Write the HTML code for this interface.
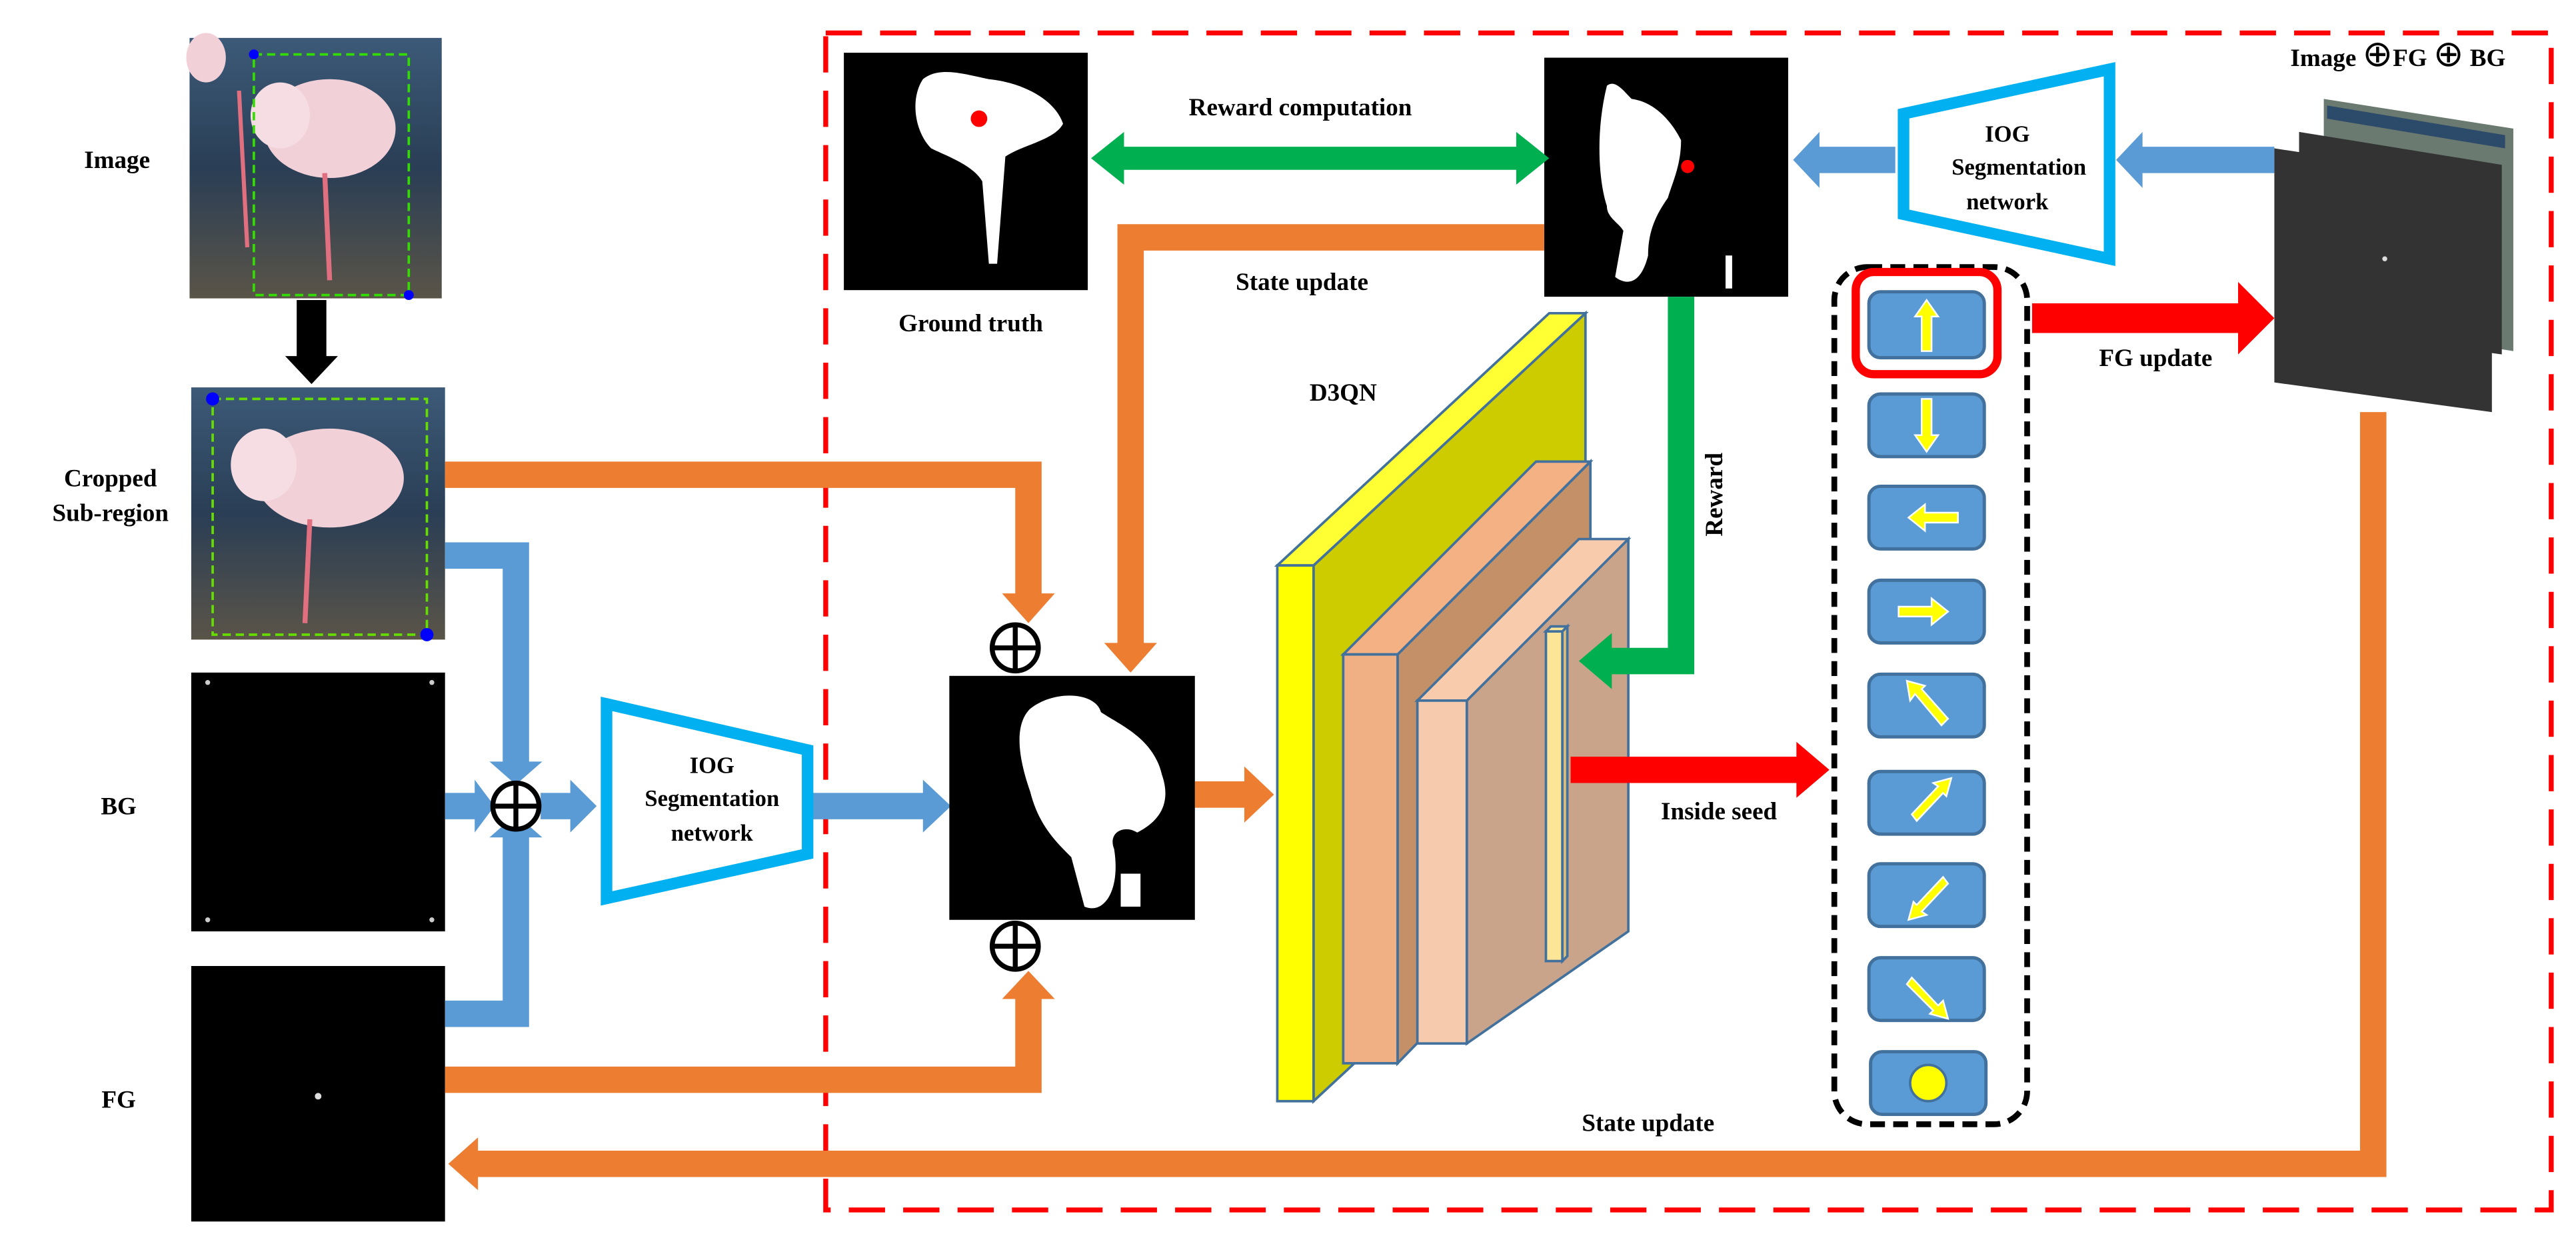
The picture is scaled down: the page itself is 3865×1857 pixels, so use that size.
<!DOCTYPE html>
<html><head><meta charset="utf-8"><style>html,body{margin:0;padding:0;background:#fff}svg{display:block}</style></head>
<body>
<svg width="3865" height="1857" viewBox="0 0 1563 751" xmlns="http://www.w3.org/2000/svg" font-family="'Liberation Serif',serif" font-weight="bold">
<defs>
<linearGradient id="ph" x1="0" y1="0" x2="0" y2="1"><stop offset="0" stop-color="#3c5a78"/><stop offset="0.5" stop-color="#2a3e55"/><stop offset="1" stop-color="#5a5448"/></linearGradient>
</defs>
<rect x="501" y="20" width="1047" height="714" fill="none" stroke="#f00" stroke-width="3" stroke-dasharray="22,11"/>
<g font-size="15" text-anchor="middle" fill="#000">
<text x="71" y="102">Image</text>
<text x="67" y="295">Cropped</text>
<text x="67" y="316">Sub-region</text>
<text x="72" y="494">BG</text>
<text x="72" y="672">FG</text>
</g>
<rect x="115" y="23" width="153" height="158" fill="url(#ph)"/>
<ellipse cx="200" cy="78" rx="40" ry="30" fill="#f2d0d8"/>
<ellipse cx="170" cy="70" rx="18" ry="20" fill="#f5dde3"/>
<ellipse cx="125" cy="35" rx="12" ry="15" fill="#f2d0d8"/>
<line x1="197" y1="105" x2="200" y2="170" stroke="#e07080" stroke-width="3"/>
<line x1="145" y1="55" x2="150" y2="150" stroke="#e07080" stroke-width="2.5"/>
<rect x="154" y="33" width="94" height="146" fill="none" stroke="#33dd00" stroke-width="1.5" stroke-dasharray="5,3"/>
<circle cx="154" cy="33" r="3" fill="#00f"/><circle cx="248" cy="179" r="3" fill="#00f"/>
<rect x="180" y="182" width="18" height="36" fill="#000"/>
<polygon points="173,216 205,216 189,233" fill="#000"/>
<rect x="116" y="235" width="154" height="153" fill="url(#ph)"/>
<ellipse cx="200" cy="290" rx="45" ry="30" fill="#f2d0d8"/>
<ellipse cx="160" cy="282" rx="20" ry="22" fill="#f5dde3"/>
<line x1="188" y1="315" x2="185" y2="378" stroke="#e07080" stroke-width="3"/>
<rect x="129" y="242" width="130" height="143" fill="none" stroke="#66dd00" stroke-width="1.5" stroke-dasharray="5,3"/>
<circle cx="129" cy="242" r="4" fill="#00f"/><circle cx="259" cy="385" r="4" fill="#00f"/>
<rect x="116" y="408" width="154" height="157" fill="#000"/>
<circle cx="126" cy="414" r="1.5" fill="#ccc"/><circle cx="262" cy="414" r="1.5" fill="#ccc"/><circle cx="126" cy="558" r="1.5" fill="#ccc"/><circle cx="262" cy="558" r="1.5" fill="#ccc"/>
<rect x="116" y="586" width="154" height="155" fill="#000"/>
<circle cx="193" cy="665" r="2" fill="#ddd"/>
<g fill="#5b9bd5">
<polygon points="270,329 321,329 321,462 329,462 313,476 297,462 305,462 305,345 270,345"/>
<polygon points="270,481 288,481 288,473 300,489 288,505 288,497 270,497"/>
<polygon points="270,615 305,615 305,516 297,516 313,502 329,516 321,516 321,631 270,631" transform="translate(0,-8)"/>
<polygon points="328,481 346,481 346,473 362,489 346,505 346,497 328,497"/>
<polygon points="493,481 560,481 560,473 577,489 560,505 560,497 493,497"/>
<polygon points="1380,89 1300,89 1300,80 1284,97 1300,114 1300,105 1380,105"/>
<polygon points="1150,89 1104,89 1104,80 1088,97 1104,114 1104,105 1150,105"/>
</g>
<g fill="#fff" stroke="#000" stroke-width="3">
<circle cx="313" cy="489" r="14"/><line x1="299" y1="489" x2="327" y2="489"/><line x1="313" y1="475" x2="313" y2="503"/>
<circle cx="616" cy="393" r="14"/><line x1="602" y1="393" x2="630" y2="393"/><line x1="616" y1="379" x2="616" y2="407"/>
<circle cx="616" cy="574" r="14"/><line x1="602" y1="574" x2="630" y2="574"/><line x1="616" y1="560" x2="616" y2="588"/>
</g>
<polygon points="368,427 490,455 490,518 368,545" fill="#fff" stroke="#00b0f0" stroke-width="7"/>
<g font-size="14" text-anchor="middle" font-weight="bold"><text x="432" y="469">IOG</text><text x="432" y="489">Segmentation</text><text x="432" y="510">network</text></g>
<g fill="#ed7d31">
<polygon points="270,280 632,280 632,360 640,360 624,378 608,360 616,360 616,296 270,296"/>
<polygon points="270,647 616,647 616,606 608,606 624,589 640,606 632,606 632,663 270,663"/>
<polygon points="725,474 755,474 755,465 773,482 755,499 755,490 725,490"/>
<polygon points="937,136 678,136 678,390 670,390 686,408 702,390 694,390 694,152 937,152"/>
<polygon points="1432,250 1448,250 1448,714 290,714 290,722 272,706 290,690 290,698 1432,698"/>
</g>
<rect x="576" y="410" width="149" height="148" fill="#000"/>
<path d="M625,430 C640,418 665,420 668,432 C680,440 700,448 705,470 C712,490 700,500 690,505 C682,500 672,505 676,515 C680,540 670,555 658,550 L650,520 C640,510 630,500 625,480 C618,460 615,440 625,430Z" fill="#fff"/>
<rect x="680" y="530" width="12" height="20" fill="#fff"/>
<rect x="512" y="32" width="148" height="144" fill="#000"/>
<path d="M560,48 C570,40 585,45 600,48 C620,50 640,60 645,75 C640,85 620,88 610,95 L605,160 L600,160 L596,110 C590,100 575,95 565,90 C555,80 552,60 560,48Z" fill="#fff"/>
<circle cx="594" cy="72" r="5" fill="#f00"/>
<rect x="937" y="35" width="148" height="145" fill="#000"/>
<path d="M975,52 C980,48 985,55 990,60 C1005,62 1015,75 1020,85 C1020,100 1015,110 1012,120 C1005,130 1000,140 1000,155 C995,175 985,172 980,168 L985,140 C982,135 975,132 975,125 C970,110 968,80 975,52Z" fill="#fff"/>
<rect x="1047" y="155" width="4" height="20" fill="#fff"/>
<circle cx="1024" cy="101" r="4" fill="#f00"/>
<polygon points="662,96 682,80 682,89 920,89 920,80 940,96 920,112 920,103 682,103 682,112" fill="#00b050"/>
<g font-size="15" text-anchor="middle">
<text x="789" y="70">Reward computation</text>
<text x="790" y="176">State update</text>
<text x="589" y="201">Ground truth</text>
<text x="815" y="243">D3QN</text>
<text x="1043" y="497">Inside seed</text>
<text x="1308" y="222">FG update</text>
<text x="1000" y="686">State update</text>
<text x="1045" y="300" transform="rotate(-90 1045 300)">Reward</text>
</g>
<g stroke="#41719c" stroke-width="1.5">
<polygon points="797,343 962,190 962,515 797,668" fill="#cccc00"/>
<polygon points="775,343 940,190 962,190 797,343" fill="#ffff33"/>
<rect x="775" y="343" width="22" height="325" fill="#ffff00"/>
<polygon points="848,397 965,280 965,525 848,645" fill="#c49068"/>
<polygon points="815,397 932,280 965,280 848,397" fill="#f4b183"/>
<rect x="815" y="397" width="33" height="248" fill="#f1b083"/>
<polygon points="890,425 988,327 988,565 890,633" fill="#c9a38a"/>
<polygon points="860,425 958,327 988,327 890,425" fill="#f8cbad"/>
<rect x="860" y="425" width="30" height="208" fill="#f6caad"/>
<rect x="938" y="383" width="10" height="200" fill="#fde597"/>
<polygon points="938,383 941,380 951,380 948,383" fill="#fde597"/>
<polygon points="948,383 951,380 951,580 948,583" fill="#d9c080"/>
</g>
<polygon points="1012,180 1028,180 1028,409 978,409 978,418 958,401 978,384 978,393 1012,393" fill="#00b050"/>
<polygon points="953,459 1090,459 1090,450 1110,467 1090,484 1090,475 953,475" fill="#f00"/>
<polygon points="1233,184 1358,184 1358,171 1380,193 1358,215 1358,202 1233,202" fill="#f00"/>
<rect x="1113" y="162" width="117" height="520" rx="20" fill="none" stroke="#000" stroke-width="3.5" stroke-dasharray="9,5"/>
<rect x="1126" y="165" width="86" height="62" rx="11" fill="none" stroke="#f00" stroke-width="5"/>
<g fill="#5b9bd5" stroke="#41719c" stroke-width="2">
<rect x="1134" y="177" width="70" height="40" rx="7"/>
<rect x="1134" y="239" width="70" height="38" rx="7"/>
<rect x="1134" y="295" width="70" height="38" rx="7"/>
<rect x="1134" y="352" width="70" height="38" rx="7"/>
<rect x="1134" y="409" width="70" height="38" rx="7"/>
<rect x="1134" y="468" width="70" height="38" rx="7"/>
<rect x="1134" y="524" width="70" height="38" rx="7"/>
<rect x="1134" y="581" width="70" height="38" rx="7"/>
<rect x="1135" y="638" width="70" height="38" rx="7"/>
</g>
<g fill="#ffff00" stroke="#fff" stroke-width="1">
<polygon points="1166,213 1166,192 1162,192 1169,182 1176,192 1172,192 1172,213"/>
<polygon points="1166,242 1172,242 1172,264 1176,264 1169,274 1162,264 1166,264"/>
<polygon points="1188,311 1168,311 1168,306 1158,314 1168,322 1168,317 1188,317"/>
<polygon points="1152,368 1172,368 1172,363 1182,371 1172,379 1172,374 1152,374"/>
<polygon points="1178,440 1162,421 1159,425 1157,413 1168,416 1166,418 1182,436"/>
<polygon points="1160,486 1176,469 1173,467 1184,464 1181,475 1179,473 1163,490" transform="translate(0,8)"/>
<polygon points="1182,536 1166,553 1169,555 1158,558 1161,547 1163,549 1179,532"/>
<polygon points="1160,593 1176,610 1179,607 1182,618 1171,615 1173,613 1157,597"/>
</g>
<circle cx="1170" cy="657" r="11" fill="#ffff00" stroke="#41719c" stroke-width="1.5"/>
<polygon points="1155,69 1280,42 1280,157 1155,130" fill="#fff" stroke="#00b0f0" stroke-width="7"/>
<g font-size="14" text-anchor="middle"><text x="1218" y="86">IOG</text><text x="1225" y="106">Segmentation</text><text x="1218" y="127">network</text></g>
<polygon points="1410,60 1525,78 1525,213 1410,195" fill="#6a7a70"/>
<polygon points="1412,64 1520,82 1520,90 1412,72" fill="#2c4a6a"/>
<polygon points="1395,80 1518,100 1518,215 1395,198" fill="#333"/>
<polygon points="1380,90 1512,110 1512,250 1380,232" fill="#333"/>
<circle cx="1447" cy="157" r="1.5" fill="#ddd"/>
<text x="1455" y="40" font-size="15" text-anchor="middle">Image <tspan font-size="22" font-weight="normal">⊕</tspan>FG <tspan font-size="22" font-weight="normal">⊕</tspan> BG</text>
</svg>
</body></html>
